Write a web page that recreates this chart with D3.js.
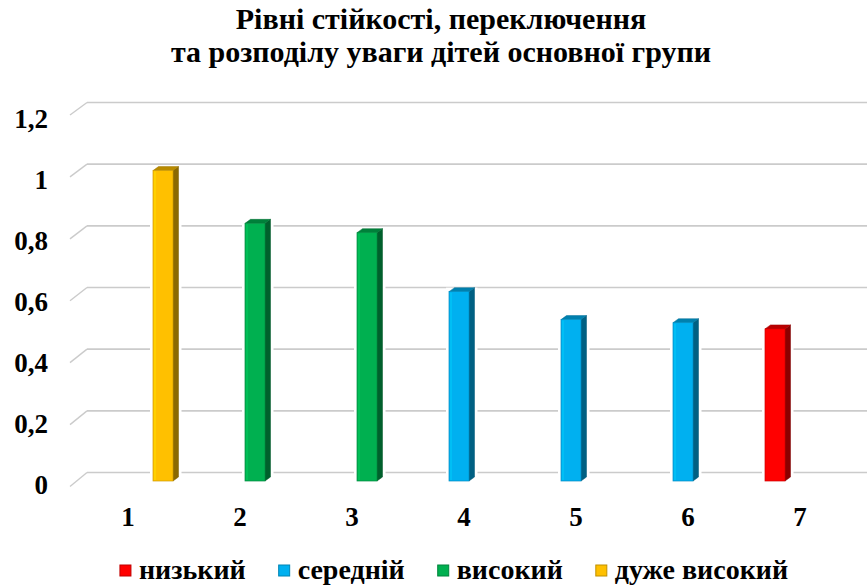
<!DOCTYPE html>
<html>
<head>
<meta charset="utf-8">
<script src="https://cdn.jsdelivr.net/npm/d3@7"></script>
<style>
  body { margin: 0; background: #fff; }
</style>
</head>
<body>
<svg width="867" height="587"></svg>
<script>
// data
var categories = ["1", "2", "3", "4", "5", "6", "7"];
var seriesNames = ["низький", "середній", "високий", "дуже високий"];
var lowValues      = [null, null, null, null, null, null, 0.49];
var midValues      = [null, null, null, 0.61, 0.52, 0.51, null];
var highValues     = [null, 0.83, 0.80, null, null, null, null];
var veryHighValues = [1.00, null, null, null, null, null, null];
var yTicks = [0, 0.2, 0.4, 0.6, 0.8, 1, 1.2];
var tickLabels = ["0", "0,2", "0,4", "0,6", "0,8", "1", "1,2"];
var titleLines = ["Рівні стійкості, переключення", "та розподілу уваги дітей основної групи"];
var seriesColors = ["#ff0000", "#00b0f0", "#00b050", "#ffc000"];

var seriesValues = [lowValues, midValues, highValues, veryHighValues];

var FONT = "Liberation Serif";

var svg = d3.select("svg"),
    width = +svg.attr("width"),
    height = +svg.attr("height");

// back wall, front edge and bar plane (fake 3d)
var yBack = d3.scaleLinear().domain([0, 1.2]).range([472.5, 102.5]);
var yEdge = d3.scaleLinear().domain([0, 1.2]).range([486.5, 115]);
var yBar = d3.scaleLinear().domain([0, 1.2]).range([481, 108.5]);
var yLabel = d3.scaleLinear().domain([0, 1.2]).range([485, 118.5]);

var x = d3.scaleBand()
    .domain(categories)
    .range([77, 861])
    .paddingInner(32 / 112)
    .paddingOuter(16 / 112);

var xs = d3.scaleBand()
    .domain(seriesNames)
    .range([0, x.bandwidth()]);

var depthX = 5.5, depthY = 4;

function styleText(sel, size) {
  sel.style("font-family", FONT)
     .style("font-weight", "bold")
     .style("font-size", size + "px")
     .attr("fill", "#000");
}

// title
svg.append("g").selectAll("text")
    .data(titleLines)
    .enter().append("text")
      .attr("x", 441)
      .attr("y", function(d, i) { return 29 + i * 33; })
      .attr("text-anchor", "middle")
      .call(styleText, 30)
      .text(function(d) { return d; });

// gridlines
var grid = svg.append("g").attr("class", "grid");
grid.selectAll("line.back")
    .data(yTicks)
    .enter().append("line")
      .attr("x1", 87).attr("x2", width)
      .attr("y1", function(d) { return yBack(d); })
      .attr("y2", function(d) { return yBack(d); })
      .attr("stroke", "#cbcbcb").attr("stroke-width", 1.6);
grid.selectAll("line.edge")
    .data(yTicks)
    .enter().append("line")
      .attr("x1", 70).attr("x2", 87)
      .attr("y1", function(d) { return yEdge(d); })
      .attr("y2", function(d) { return yBack(d); })
      .attr("stroke", "#cbcbcb").attr("stroke-width", 1.4);

// y labels
var yAxis = svg.append("g")
    .attr("transform", "translate(48,0)")
    .call(d3.axisLeft(yLabel).tickValues(yTicks).tickSize(0).tickPadding(0)
      .tickFormat(function(d, i) { return tickLabels[i]; }));
yAxis.select(".domain").remove();
yAxis.selectAll("text").call(styleText, 27);

// x labels
var xAxis = svg.append("g")
    .attr("transform", "translate(-5,507)")
    .call(d3.axisBottom(x).tickSize(0).tickPadding(0));
xAxis.select(".domain").remove();
xAxis.selectAll("text").call(styleText, 27);

// bars
var bars = [];
seriesValues.forEach(function(vals, s) {
  vals.forEach(function(v, i) {
    if (v != null) bars.push({ cat: categories[i], series: seriesNames[s], value: v, color: seriesColors[s] });
  });
});

var bar = svg.append("g").selectAll("g.bar")
    .data(bars)
    .enter().append("g")
      .attr("class", "bar");

function bx(d) { return x(d.cat) + xs(d.series); }

// white gap in gridlines round each bar
bar.append("rect")
    .attr("x", function(d) { return bx(d) - 3; })
    .attr("y", function(d) { return yBar(d.value) - depthY; })
    .attr("width", xs.bandwidth() + depthX + 6)
    .attr("height", function(d) { return yBar(0) - yBar(d.value) + depthY; })
    .attr("fill", "#fff");

bar.append("path")
    .attr("d", function(d) {
      var x0 = bx(d) + xs.bandwidth(), yt = yBar(d.value), yb = yBar(0);
      return "M" + x0 + "," + yt + "L" + (x0 + depthX) + "," + (yt - depthY) +
             "L" + (x0 + depthX) + "," + (yb - depthY) + "L" + x0 + "," + yb + "Z";
    })
    .attr("fill", function(d) { return d3.color(d.color).darker(1.7); })
    .attr("stroke", function(d) { return d3.color(d.color).darker(2); })
    .attr("stroke-width", 0.5);

bar.append("path")
    .attr("d", function(d) {
      var x0 = bx(d), x1 = x0 + xs.bandwidth(), yt = yBar(d.value);
      return "M" + x0 + "," + yt + "L" + (x0 + depthX) + "," + (yt - depthY) +
             "L" + (x1 + depthX) + "," + (yt - depthY) + "L" + x1 + "," + yt + "Z";
    })
    .attr("fill", function(d) { return d3.color(d.color).darker(0.9); })
    .attr("stroke", function(d) { return d3.color(d.color).darker(1.3); })
    .attr("stroke-width", 0.5);

bar.append("rect")
    .attr("x", bx)
    .attr("y", function(d) { return yBar(d.value); })
    .attr("width", xs.bandwidth())
    .attr("height", function(d) { return yBar(0) - yBar(d.value); })
    .attr("fill", function(d) { return d.color; })
    .attr("stroke", function(d) { return d3.color(d.color).darker(0.6); })
    .attr("stroke-width", 0.7);

bar.append("line")
    .attr("x1", function(d) { return bx(d) + 2; })
    .attr("x2", function(d) { return bx(d) + 2; })
    .attr("y1", function(d) { return yBar(d.value) + 1; })
    .attr("y2", function(d) { return yBar(0) - 1; })
    .attr("stroke", function(d) { return d3.color(d.color).brighter(0.6); })
    .attr("stroke-opacity", 0.6)
    .attr("stroke-width", 1.2);

// legend
var legend = svg.append("g");
var items = legend.selectAll("g")
    .data(seriesNames)
    .enter().append("g");

items.append("rect")
    .attr("width", 11).attr("height", 11)
    .attr("y", 565)
    .attr("fill", function(d, i) { return seriesColors[i]; })
    .attr("stroke", function(d, i) { return d3.color(seriesColors[i]).darker(0.8); })
    .attr("stroke-width", 1);

items.append("text")
    .attr("x", 19)
    .attr("y", 578.5)
    .call(styleText, 28)
    .text(function(d) { return d; });

var pos = 0, offsets = [];
items.each(function() {
  offsets.push(pos);
  pos += 19 + this.querySelector("text").getComputedTextLength() + 33;
});
var total = pos - 33, start = 454 - total / 2;
items.attr("transform", function(d, i) { return "translate(" + (start + offsets[i]) + ",0)"; });
</script>
</body>
</html>
